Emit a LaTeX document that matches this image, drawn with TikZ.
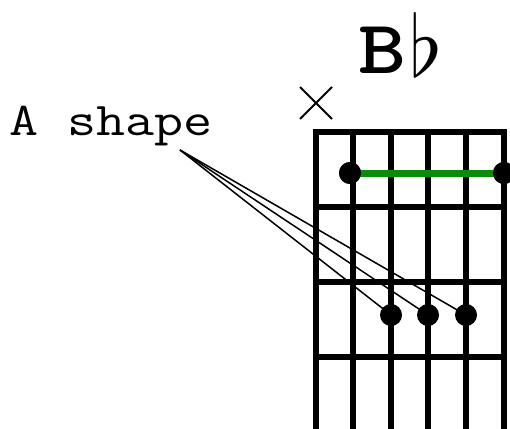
\documentclass[tikz,border=0pt]{standalone}
\usepackage{fontspec}
\usepackage{graphicx}
\usepackage{tikz}
\usetikzlibrary{positioning}
\definecolor{barregreen}{HTML}{0A8C0A}

\tikzset{
  fretline/.style={line width=5.5pt},
  fingerdot/.style={circle,fill=black,inner sep=0pt,minimum size=22pt},
  pointer/.style={line width=1.5pt},
}

\begin{document}
\begin{tikzpicture}[x=1pt,y=-1pt]
    \useasboundingbox (0,0) rectangle (510,428);
    % strings and frets
    \foreach \s in {316,353,391,428,466,504}
      \draw[fretline] (\s,132)--(\s,440);
    \foreach \f in {207,282,357}
      \draw[fretline] (316,\f)--(504,\f);
    \draw[fretline,line cap=rect] (316,132)--(504,132);
    % muted string
    \draw[line width=2pt] (300,87)--(332,119) (300,119)--(332,87);
    % title and label
    \node[inner sep=0pt,anchor=base east] (title) at (407,73)
      {\scalebox{1.2}[1]{\fontsize{76}{76}\selectfont\ttfamily\bfseries B}};
    \node[inner sep=0pt,anchor=south west] (flat) at (409,77)
      {\resizebox{!}{64pt}{$\flat$}};
    \node[inner sep=0pt,anchor=base west] (label) at (9,135)
      {\scalebox{1.2}[1]{\fontsize{47}{47}\selectfont\ttfamily A shape}};
    \coordinate (tip) at (180,150);
    % barre
    \node[fingerdot] (b1) at (350,173) {};
    \node[fingerdot] (b6) at (504,173) {};
    \draw[barregreen,line width=7pt] (b1.center)--(b6.center);
    \node[fingerdot] at (b1) {};
    \node[fingerdot] at (b6) {};
    % A shape fingers
    \draw[pointer] (tip)--(391,315);
    \draw[pointer] (tip)--(428,315);
    \draw[pointer] (tip)--(466,315);
    \node[fingerdot] (d3) at (391,315) {};
    \node[fingerdot] (d4) at (428,315) {};
    \node[fingerdot] (d5) at (466,315) {};
  \end{tikzpicture}
\end{document}
